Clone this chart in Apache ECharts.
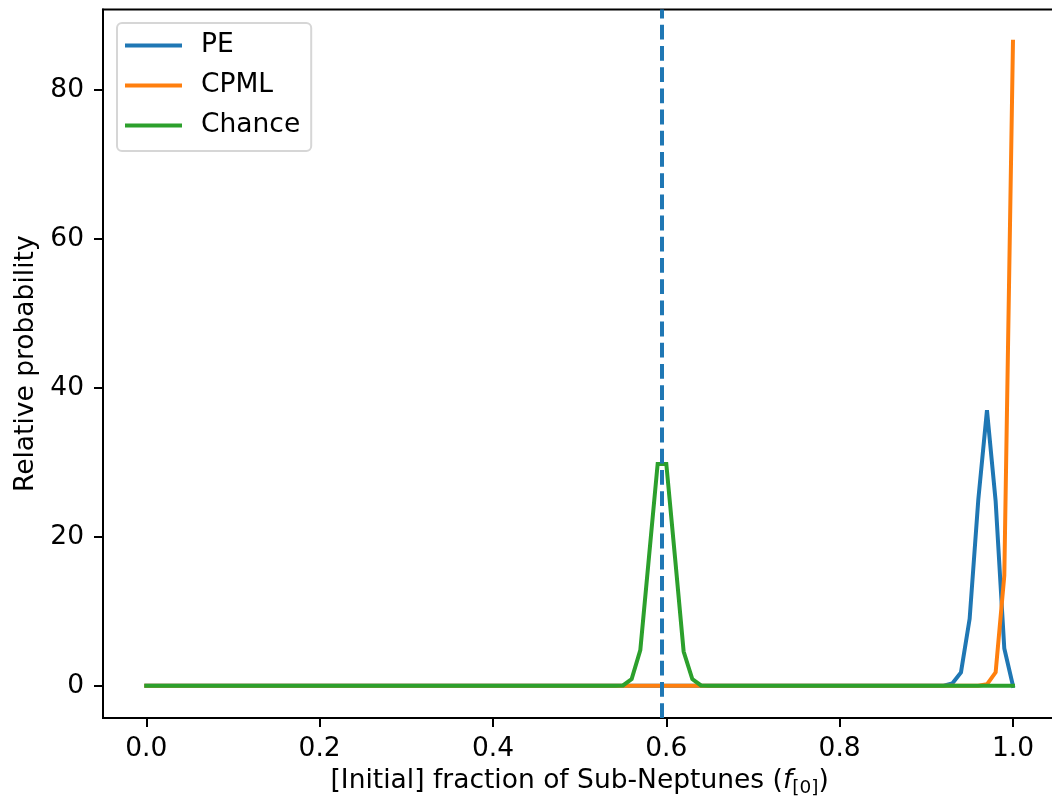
<!DOCTYPE html>
<html>
<head>
<meta charset="utf-8">
<script src="https://cdn.jsdelivr.net/npm/echarts@6/dist/echarts.min.js"></script>
<style>
html,body{margin:0;padding:0;background:#fff;}
#chart{width:1052px;height:808px;}
</style>
</head>
<body>
<div id="chart"></div>
<script>
// ---- data ----
const peX = [0.0, 0.92, 0.93, 0.94, 0.95, 0.96, 0.97, 0.98, 0.99, 1.00];
const peY = [0.0, 0.0, 0.3, 1.8, 9.0, 25.0, 37.0, 24.8, 5.0, 0.0];

const cpmlX = [0.0, 0.96, 0.97, 0.98, 0.99, 1.00];
const cpmlY = [0.0, 0.0, 0.2, 1.8, 14.8, 86.5];

const chanceX = [0.0, 0.54, 0.55, 0.56, 0.57, 0.58, 0.59, 0.60, 0.61, 0.62, 0.63, 0.64, 0.65, 1.0];
const chanceY = [0.0, 0.0, 0.05, 0.9, 4.8, 17.3, 29.8, 29.8, 17.3, 4.6, 0.9, 0.05, 0.0, 0.0];

const dashedX = 0.595;

const xTicks = [0.0, 0.2, 0.4, 0.6, 0.8, 1.0];
const yTicks = [0, 20, 40, 60, 80];

const seriesNames = ['PE', 'CPML', 'Chance'];
const colors = ['#1f77b4', '#ff7f0e', '#2ca02c'];

function pairs(xs, ys) { return xs.map((x, i) => [x, ys[i]]); }

const FONT = 'DejaVu Sans';
const FS = 26.5;

const chart = echarts.init(document.getElementById('chart'), null, {renderer: 'canvas'});

const lineSeries = [[peX, peY], [cpmlX, cpmlY], [chanceX, chanceY]].map((d, i) => ({
  name: seriesNames[i],
  type: 'line',
  data: pairs(d[0], d[1]),
  symbol: 'none',
  showSymbol: false,
  animation: false,
  lineStyle: {color: colors[i], width: 4, cap: 'square', join: 'miter'},
  itemStyle: {color: colors[i]},
  z: 2 + i
}));

lineSeries.push({
  name: 'dashed',
  type: 'line',
  data: [],
  animation: false,
  z: 10,
  markLine: {
    silent: true,
    symbol: 'none',
    animation: false,
    precision: 6,
    label: {show: false},
    lineStyle: {color: colors[0], width: 4, type: [14.8, 6.4]},
    data: [{xAxis: dashedX}]
  }
});

const option = {
  animation: false,
  backgroundColor: '#fff',
  textStyle: {fontFamily: FONT},
  grid: {
    left: 103, top: 9.5, right: -4.3, bottom: 90,
    show: true, borderColor: '#000', borderWidth: 2, backgroundColor: 'transparent',
    containLabel: false, outerBoundsMode: 'none'
  },
  legend: {
    data: seriesNames.map((n, i) => ({name: n, icon: 'path://M0,0H57V4H0Z', itemStyle: {color: colors[i]}})),
    orient: 'vertical',
    left: 117, top: 23,
    selectedMode: false,
    symbolKeepAspect: true,
    itemWidth: 57, itemHeight: 26.7, itemGap: 13,
    padding: [9, 11, 12, 8],
    backgroundColor: 'rgba(255,255,255,0.8)',
    borderColor: '#d6d6d6', borderWidth: 2, borderRadius: 5,
    textStyle: {fontFamily: FONT, fontSize: FS, color: '#000', lineHeight: 26.7, padding: [0, 0, 0, 14]}
  },
  xAxis: {
    type: 'value',
    min: -0.05, max: 1.05,
    name: '[Initial] fraction of Sub-Neptunes ({it|f}{sub|[0]})',
    nameLocation: 'middle',
    nameGap: 41,
    nameTextStyle: {
      fontFamily: FONT, fontSize: FS, color: '#000',
      rich: {
        it: {fontFamily: FONT, fontSize: FS, fontStyle: 'italic', color: '#000'},
        sub: {fontFamily: FONT, fontSize: 18.5, color: '#000', padding: [14, 0, 0, 0], verticalAlign: 'top'}
      }
    },
    axisLine: {show: true, onZero: false, lineStyle: {color: '#000', width: 2}},
    axisTick: {show: true, inside: false, length: 9, lineStyle: {color: '#000', width: 2}, customValues: xTicks},
    axisLabel: {
      show: true, margin: 18, fontFamily: FONT, fontSize: FS, color: '#000',
      customValues: xTicks,
      formatter: v => v.toFixed(1)
    },
    splitLine: {show: false}
  },
  yAxis: {
    type: 'value',
    min: -4.325, max: 90.825,
    name: 'Relative probability',
    nameLocation: 'middle',
    nameGap: 58,
    nameRotate: 90,
    nameTextStyle: {fontFamily: FONT, fontSize: FS, color: '#000'},
    axisLine: {show: true, onZero: false, lineStyle: {color: '#000', width: 2}},
    axisTick: {show: true, inside: false, length: 9, lineStyle: {color: '#000', width: 2}, customValues: yTicks},
    axisLabel: {
      show: true, margin: 19, fontFamily: FONT, fontSize: FS, color: '#000',
      customValues: yTicks
    },
    splitLine: {show: false}
  },
  series: lineSeries
};

chart.setOption(option);
</script>
</body>
</html>
